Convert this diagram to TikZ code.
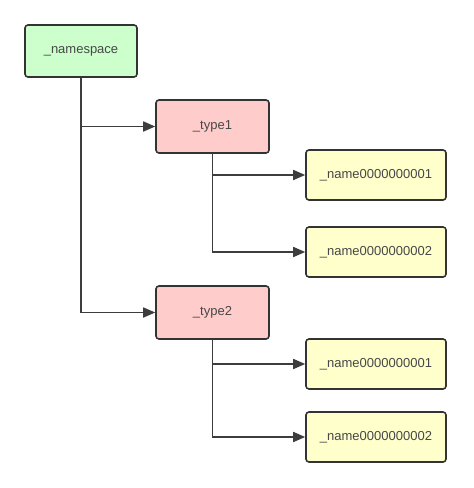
\documentclass[tikz,border=0pt]{standalone}
\usepackage{fontspec}
\setmainfont{Liberation Sans}
\usetikzlibrary{arrows.meta}
\definecolor{nsgreen}{HTML}{CCFFCC}
\definecolor{typered}{HTML}{FFCCCC}
\definecolor{nameyellow}{HTML}{FFFFCC}
\definecolor{edge}{HTML}{333333}
\tikzset{
  box/.style={draw=edge, line width=1.6pt, rounded corners=3pt, inner sep=0pt,
    font=\fontsize{13}{15}\selectfont, text=edge!90},
  nsbox/.style={box, fill=nsgreen, minimum width=112pt, minimum height=52pt},
  typebox/.style={box, fill=typered, minimum width=113pt, minimum height=53pt},
  namebox/.style={box, fill=nameyellow, minimum width=140pt, minimum height=50pt},
  conn/.style={draw=edge!95, line width=1.7pt, -{Triangle[length=12pt,width=10pt]}}
}
\begin{document}
\begin{tikzpicture}[x=1pt,y=-1pt]
\useasboundingbox (0,0) rectangle (474,488);
\node[nsbox] (ns) at (81,51) {\_namespace};
\node[typebox] (t1) at (212.5,126.5) {\_type1};
\node[typebox] (t2) at (212.5,312.5) {\_type2};
\node[namebox] (n1) at (376,175) {\_name0000000001};
\node[namebox] (n2) at (376,252) {\_name0000000002};
\node[namebox] (n3) at (376,364) {\_name0000000001};
\node[namebox] (n4) at (376,437) {\_name0000000002};
\draw[conn] (ns.south) |- (t1.west);
\draw[conn] (ns.south) |- (t2.west);
\draw[conn] (t1.south) |- (n1.west);
\draw[conn] (t1.south) |- (n2.west);
\draw[conn] (t2.south) |- (n3.west);
\draw[conn] (t2.south) |- (n4.west);
\end{tikzpicture}
\end{document}
